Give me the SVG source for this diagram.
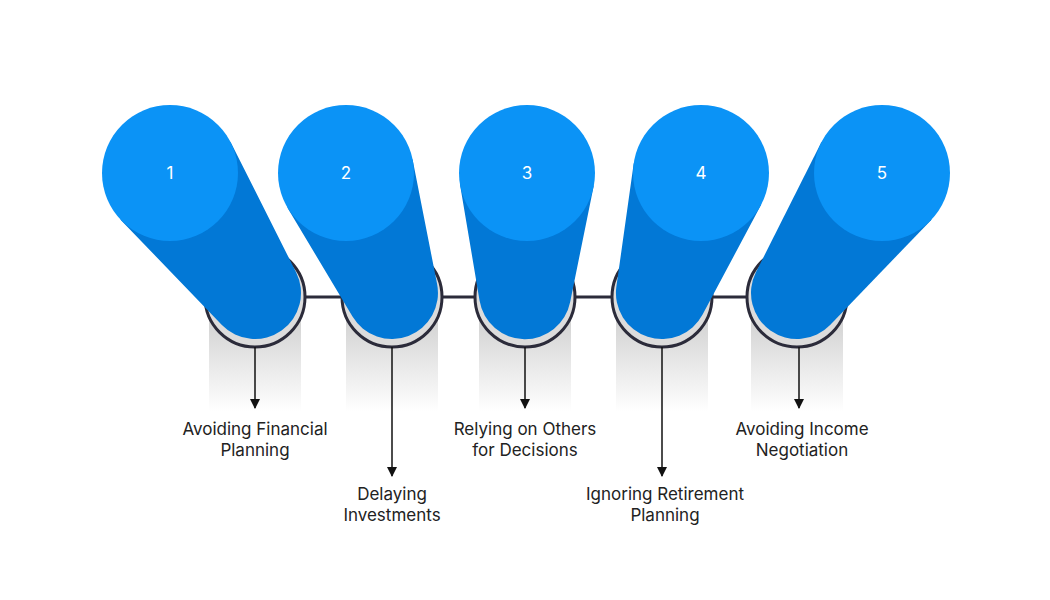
<svg xmlns="http://www.w3.org/2000/svg" width="1050" height="600" viewBox="0 0 1050 600">
<defs>
<linearGradient id="sh" x1="0" y1="0" x2="0" y2="1"><stop offset="0" stop-color="#c8c8c8"/><stop offset="1" stop-color="#ffffff"/></linearGradient>
<marker id="ar" viewBox="0 0 10 10" refX="9" refY="5" markerWidth="7" markerHeight="7" orient="auto"><path d="M0,0 L10,5 L0,10 Z" fill="#111"/></marker>
<style>
.sh{fill:url(#sh)}
.ring{fill:#dcdcdc;stroke:#2b2b3a;stroke-width:3}
.body{fill:#0278d6}
.top{fill:#0b93f6}
.num{font-family:Inter,"Liberation Sans",sans-serif;font-size:17px;fill:#fff;text-anchor:middle}
.lbl{font-family:Inter,"Liberation Sans",sans-serif;font-size:17px;fill:#222;text-anchor:middle}
.c{stroke:#111;stroke-width:1.5;fill:none}
</style>
</defs>
<rect width="1050" height="600" fill="#fff"/>
<g id="connectors">
<line x1="300" y1="297" x2="750" y2="297" stroke="#2b2b3a" stroke-width="3"/>
</g>
<g id="node1">
<rect class="sh" x="209" y="297" width="92" height="115"/>
<circle class="ring" cx="255" cy="297" r="50"/>
<path class="body" d="M230.8 142.4 L296.1 272.3 A46 46 0 0 1 221.9 324.9 L121 220.2 A68 68 0 0 1 230.8 142.4 Z"/>
<circle class="top" cx="170" cy="173" r="68"/>
<text class="num" x="170" y="179">1</text>
<line class="c" x1="255" y1="347" x2="255" y2="408" marker-end="url(#ar)"/>
<text class="lbl" x="255" y="435">Avoiding Financial</text><text class="lbl" x="255" y="456">Planning</text>
</g>
<g id="node2">
<rect class="sh" x="346" y="297" width="92" height="115"/>
<circle class="ring" cx="392" cy="297" r="50"/>
<path class="body" d="M412.7 159.9 L437.1 284.1 A46 46 0 0 1 352.5 316.6 L287.6 207.9 A68 68 0 0 1 412.7 159.9 Z"/>
<circle class="top" cx="346" cy="173" r="68"/>
<text class="num" x="346" y="179">2</text>
<line class="c" x1="392" y1="347" x2="392" y2="476" marker-end="url(#ar)"/>
<text class="lbl" x="392" y="500">Delaying</text><text class="lbl" x="392" y="521">Investments</text>
</g>
<g id="node3">
<rect class="sh" x="479" y="297" width="92" height="115"/>
<circle class="ring" cx="525" cy="297" r="50"/>
<path class="body" d="M593.6 186.6 L570.1 302.2 A46 46 0 0 1 479.6 300.7 L460 184.4 A68 68 0 0 1 593.6 186.6 Z"/>
<circle class="top" cx="527" cy="173" r="68"/>
<text class="num" x="527" y="179">3</text>
<line class="c" x1="525" y1="347" x2="525" y2="408" marker-end="url(#ar)"/>
<text class="lbl" x="525" y="435">Relying on Others</text><text class="lbl" x="525" y="456">for Decisions</text>
</g>
<g id="node4">
<rect class="sh" x="616" y="297" width="92" height="115"/>
<circle class="ring" cx="662" cy="297" r="50"/>
<path class="body" d="M761 205 L702.6 314.6 A46 46 0 0 1 616.4 286.6 L633.7 163.6 A68 68 0 0 1 761 205 Z"/>
<circle class="top" cx="701" cy="173" r="68"/>
<text class="num" x="701" y="179">4</text>
<line class="c" x1="662" y1="347" x2="662" y2="476" marker-end="url(#ar)"/>
<text class="lbl" x="665" y="500">Ignoring Retirement</text><text class="lbl" x="665" y="521">Planning</text>
</g>
<g id="node5">
<rect class="sh" x="751" y="297" width="92" height="115"/>
<circle class="ring" cx="797" cy="297" r="50"/>
<path class="body" d="M931 220.2 L830.1 324.9 A46 46 0 0 1 755.9 272.3 L821.2 142.4 A68 68 0 0 1 931 220.2 Z"/>
<circle class="top" cx="882" cy="173" r="68"/>
<text class="num" x="882" y="179">5</text>
<line class="c" x1="799" y1="347" x2="799" y2="408" marker-end="url(#ar)"/>
<text class="lbl" x="802" y="435">Avoiding Income</text><text class="lbl" x="802" y="456">Negotiation</text>
</g>
</svg>
